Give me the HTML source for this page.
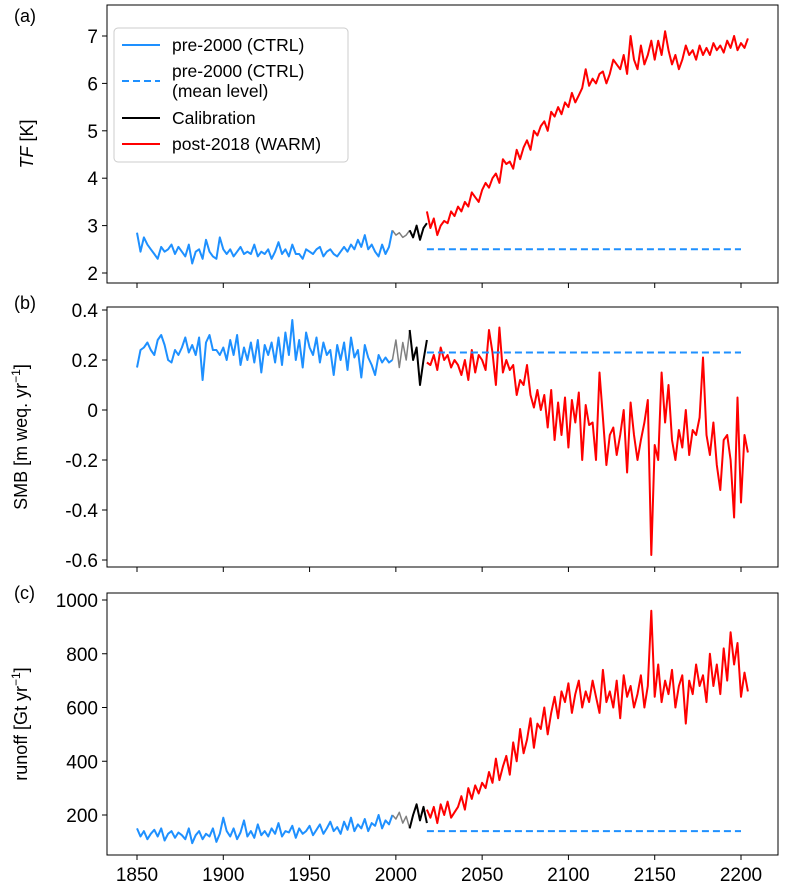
<!DOCTYPE html>
<html><head><meta charset="utf-8"><style>
body{margin:0;background:#fff;}
svg{display:block;font-family:"Liberation Sans","DejaVu Sans",sans-serif;}
</style></head><body>
<svg id="chart" width="787" height="890" viewBox="0 0 787 890"></svg>
<script>
// ---- data ----
const xTicks = [1850,1900,1950,2000,2050,2100,2150,2200];
const ctrlStart = 1850, grayStart = 1998, calStart = 2008, warmStart = 2018, step = 2;
const meanStart = 2018, meanEnd = 2200;
const tfTicks = [2,3,4,5,6,7];
const smbTicks = [0.4,0.2,0,-0.2,-0.4,-0.6];
const smbTickLabels = ["0.4","0.2","0","-0.2","-0.4","-0.6"];
const runTicks = [200,400,600,800,1000];
const tfMean = 2.5, smbMean = 0.23, runMean = 140;

const tfCtrl = [2.85,2.45,2.75,2.6,2.5,2.4,2.3,2.55,2.45,2.5,2.6,2.4,2.55,2.45,2.35,2.6,2.2,2.45,2.5,2.3,2.7,2.45,2.35,2.3,2.75,2.5,2.4,2.5,2.35,2.45,2.55,2.4,2.45,2.4,2.6,2.35,2.45,2.4,2.5,2.3,2.45,2.65,2.4,2.5,2.35,2.6,2.4,2.4,2.3,2.5,2.45,2.4,2.5,2.55,2.35,2.45,2.5,2.4,2.35,2.45,2.55,2.45,2.6,2.5,2.7,2.55,2.8,2.5,2.6,2.45,2.35,2.6,2.4,2.55,2.9];
const tfGray = [2.9,2.8,2.85,2.75,2.8,2.9];
const tfCal = [2.9,2.75,3.0,2.7,2.95,3.05];
const tfWarm = [3.3,2.95,3.15,2.8,3.0,3.1,3.05,3.3,3.2,3.4,3.3,3.5,3.4,3.7,3.6,3.5,3.75,3.9,3.8,4.0,4.1,3.9,4.4,4.3,4.35,4.2,4.6,4.4,4.65,4.8,4.6,5.0,4.9,5.1,5.2,5.0,5.4,5.3,5.5,5.35,5.6,5.5,5.8,5.6,5.75,5.9,6.3,5.95,6.1,6.0,6.2,6.25,6.0,6.2,6.5,6.4,6.3,6.6,6.2,7.0,6.5,6.3,6.8,6.4,6.6,6.9,6.5,6.9,6.6,7.1,6.7,6.4,6.6,6.3,6.5,6.8,6.6,6.7,6.5,6.8,6.6,6.75,6.6,6.85,6.7,6.8,6.65,6.9,6.75,7.0,6.7,6.85,6.75,6.95];

const smbCtrl = [0.17,0.24,0.25,0.27,0.24,0.22,0.28,0.3,0.26,0.2,0.19,0.24,0.22,0.25,0.29,0.23,0.26,0.22,0.29,0.12,0.27,0.3,0.24,0.24,0.22,0.25,0.2,0.28,0.22,0.3,0.18,0.25,0.2,0.27,0.19,0.28,0.15,0.26,0.22,0.27,0.19,0.29,0.18,0.31,0.22,0.36,0.2,0.28,0.17,0.31,0.25,0.22,0.29,0.19,0.27,0.22,0.24,0.14,0.26,0.2,0.27,0.16,0.29,0.21,0.24,0.13,0.26,0.21,0.18,0.14,0.22,0.19,0.21,0.19,0.2];
const smbGray = [0.2,0.28,0.17,0.27,0.2,0.32];
const smbCal = [0.32,0.2,0.25,0.1,0.2,0.28];
const smbWarm = [0.19,0.18,0.22,0.16,0.25,0.2,0.22,0.17,0.2,0.18,0.14,0.2,0.12,0.24,0.15,0.22,0.2,0.16,0.32,0.23,0.1,0.33,0.15,0.2,0.16,0.18,0.06,0.12,0.1,0.18,0.06,0.01,0.08,0.0,0.06,-0.07,0.08,-0.12,0.03,-0.1,0.05,-0.15,0.04,-0.05,0.07,-0.2,0.02,-0.06,-0.05,-0.2,0.15,-0.03,-0.22,-0.1,-0.07,-0.18,-0.1,0.0,-0.25,0.03,-0.1,-0.2,-0.12,-0.05,0.04,-0.58,-0.14,-0.2,0.15,-0.05,0.1,-0.12,-0.2,-0.08,-0.15,0.0,-0.18,-0.08,-0.1,-0.03,0.21,-0.1,-0.18,-0.05,-0.22,-0.32,-0.12,-0.1,-0.2,-0.43,0.05,-0.37,-0.1,-0.17];

const runCtrl = [150,120,140,110,130,145,120,150,105,130,140,115,135,125,110,150,95,125,140,110,130,120,150,100,130,190,140,120,150,110,135,180,120,140,115,165,125,140,120,150,130,170,120,140,135,160,115,150,130,140,160,125,145,165,130,150,175,140,155,130,175,145,190,140,165,150,185,140,170,160,200,150,180,165,200];
const runGray = [200,185,210,170,195,150];
const runCal = [150,200,240,180,230,170];
const runWarm = [220,190,230,170,240,200,250,190,210,230,270,220,300,260,310,280,320,300,360,320,410,330,380,420,350,470,400,520,430,480,560,450,540,520,600,500,580,640,560,660,620,690,580,650,700,600,660,620,700,640,580,740,620,660,600,700,560,720,640,680,600,650,720,600,680,960,640,760,620,700,650,740,600,680,720,540,700,650,760,680,720,620,800,680,760,650,820,700,880,760,840,640,730,660];

// ---- drawing ----
const svg = document.getElementById('chart');
const NS = 'http://www.w3.org/2000/svg';
function mk(tag, attrs, parent){const e=document.createElementNS(NS,tag);for(const k in attrs)e.setAttribute(k,attrs[k]);(parent||svg).appendChild(e);return e;}
const X0=107, X1=778;
const xs = y => 137 + (y-1850)*(741-137)/350;

const panels = [
 {name:'tf', top:5, bot:283, v0:7, p0:36, v1:2, p1:273, ticks:tfTicks, labels:tfTicks.map(String), series:[tfCtrl,tfGray,tfCal,tfWarm], mean:tfMean, letter:'(a)', ly:22},
 {name:'smb', top:307, bot:567, v0:0.4, p0:310, v1:-0.6, p1:560, ticks:smbTicks, labels:smbTickLabels, series:[smbCtrl,smbGray,smbCal,smbWarm], mean:smbMean, letter:'(b)', ly:309},
 {name:'runoff', top:593, bot:855, v0:1000, p0:600, v1:200, p1:815, ticks:runTicks, labels:runTicks.map(String), series:[runCtrl,runGray,runCal,runWarm], mean:runMean, letter:'(c)', ly:599}
];
const starts=[ctrlStart,grayStart,calStart,warmStart];
const colors=['#1e90ff','#808080','#000000','#ff0000'];
const widths=[2,1.5,2,2];
const segNames=['ctrl-line','spinup-line','calibration-line','warm-line'];

panels.forEach((p,pi)=>{
  const ys = v => p.p0 + (v-p.v0)*(p.p1-p.p0)/(p.v1-p.v0);
  const g = mk('g',{});
  
  
  p.series.forEach((arr,si)=>{
    const pts = arr.map((v,i)=>xs(starts[si]+i*step).toFixed(1)+','+ys(v).toFixed(1)).join(' ');
    const pl = mk('polyline',{points:pts,fill:'none',stroke:colors[si],'stroke-width':widths[si],'stroke-linejoin':'round'},g);
    
    
  });
  const ml = mk('line',{x1:xs(meanStart),x2:xs(meanEnd),y1:ys(p.mean),y2:ys(p.mean),stroke:'#1e90ff','stroke-width':2,'stroke-dasharray':'7,4'},g);
  
  
  const fr = mk('rect',{x:X0,y:p.top,width:X1-X0,height:p.bot-p.top,fill:'none',stroke:'#000','stroke-width':1},g);
  
  
  p.ticks.forEach((t,i)=>{
    const y=ys(t);
    mk('line',{x1:X0-5,x2:X0,y1:y,y2:y,stroke:'#000','stroke-width':1},g);
    const tx = mk('text',{x:X0-9,y:y+7,'text-anchor':'end','font-size':19,fill:'#000'},g);
    tx.textContent=p.labels[i];
    
    
  });
  xTicks.forEach(t=>{
    const x=xs(t);
    mk('line',{x1:x,x2:x,y1:p.bot,y2:p.bot+5,stroke:'#000','stroke-width':1},g);
    if(pi===2){
      const tx = mk('text',{x:x,y:p.bot+26,'text-anchor':'middle','font-size':19,fill:'#000'},g);
      tx.textContent=String(t);
      
      
    }
  });
  const lt = mk('text',{x:14,y:p.ly,'font-size':18,fill:'#000'},g);
  lt.textContent=p.letter;
  
  
});

function ytitle(cx,cy,html,name){
  const t=mk('text',{x:cx,y:cy,'text-anchor':'middle','font-size':18,fill:'#000',transform:`rotate(-90 ${cx} ${cy})`});
  t.innerHTML=html;
  
  
}
ytitle(33,144,'<tspan font-style="italic">TF</tspan> [K]','tf-y-axis-title');
ytitle(27,437,'SMB [m weq. yr<tspan baseline-shift="super" font-size="12">−1</tspan>]','smb-y-axis-title');
ytitle(27,724,'runoff [Gt yr<tspan baseline-shift="super" font-size="12">−1</tspan>]','runoff-y-axis-title');

const lg = mk('g',{});


mk('rect',{x:114,y:28,width:234,height:134,rx:4,fill:'#fff',stroke:'#ccc','stroke-width':1},lg);
const entries=[
 {label:['pre-2000 (CTRL)'],color:'#1e90ff',dash:null,y:45,ty:51},
 {label:['pre-2000 (CTRL)','(mean level)'],color:'#1e90ff',dash:'7,4',y:81,ty:77},
 {label:['Calibration'],color:'#000',dash:null,y:118,ty:124},
 {label:['post-2018 (WARM)'],color:'#ff0000',dash:null,y:144,ty:150}
];
entries.forEach(e=>{
  const eg=mk('g',{},lg);
  
  
  const a={x1:122,x2:160,y1:e.y,y2:e.y,stroke:e.color,'stroke-width':2};
  if(e.dash)a['stroke-dasharray']=e.dash;
  mk('line',a,eg);
  e.label.forEach((l,i)=>{
    const t=mk('text',{x:172,y:e.ty+i*20,'font-size':17.5,fill:'#000'},eg);
    t.textContent=l;
  });
});
</script>
</body></html>
